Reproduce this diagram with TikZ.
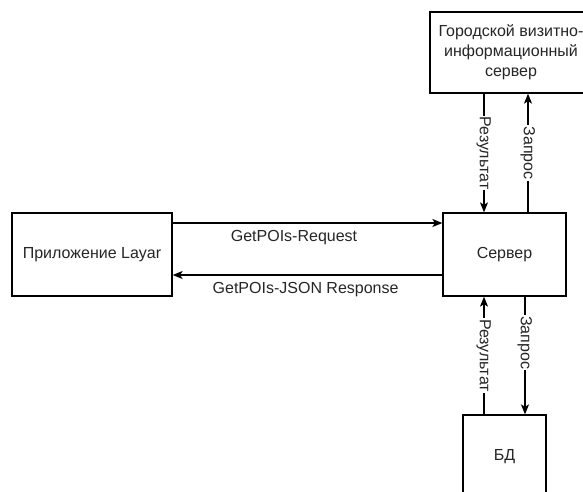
\documentclass[tikz,border=0pt]{standalone}
\usepackage{fontspec}
\setmainfont{Liberation Sans}
\usetikzlibrary{arrows.meta}
\begin{document}
\begin{tikzpicture}[x=1pt,y=-1pt,
  box/.style={draw, line width=1.3pt, fill=white, inner sep=0pt, align=center,
    font=\fontsize{16}{20}\selectfont, text=black!85},
  arr/.style={draw, line width=1.3pt, -{Stealth[length=10pt,width=8pt,inset=2.5pt]}},
  hlbl/.style={font=\fontsize{16}{20}\selectfont, text=black!85, inner sep=1pt,
    text height=11.5pt, text depth=3.4pt},
  vlbl/.style={hlbl, fill=white, rotate=-90}
]
\useasboundingbox (0,0) rectangle (583,491);
\clip (0,0) rectangle (583,491);
\fill[white] (0,0) rectangle (583,491);

\node[box, minimum width=160pt, minimum height=83pt] (app) at (92,254.5) {Приложение Layar};
\node[box, minimum width=123pt, minimum height=83pt] (srv) at (504.5,254.5) {Сервер};
\node[box, minimum width=162pt, minimum height=81pt] (city) at (511,52.5) {Городской визитно-\\информационный\\сервер};
\node[box, minimum width=83pt, minimum height=84pt] (db) at (504.5,457) {БД};

\coordinate (xa) at (484,0);
\coordinate (xb) at (528,0);
\coordinate (xc) at (525,0);
\coordinate (ya) at (0,223);
\coordinate (yb) at (0,275);

\draw[arr] (city.south -| xa) -- node[vlbl]{Результат} (srv.north -| xa);
\draw[arr] (srv.north -| xb) -- node[vlbl]{Запрос} (city.south -| xb);
\draw[arr] (db.north -| xa) -- node[vlbl]{Результат} (srv.south -| xa);
\draw[arr] (srv.south -| xc) -- node[vlbl,pos=0.39]{Запрос} (db.north -| xc);

\draw[arr] (app.east |- ya) -- node[hlbl,pos=0.45,yshift=-14pt]{GetPOIs-Request} (srv.west |- ya);
\draw[arr] (srv.west |- yb) -- node[hlbl,pos=0.507,yshift=-14pt]{GetPOIs-JSON Response} (app.east |- yb);
\end{tikzpicture}
\end{document}
